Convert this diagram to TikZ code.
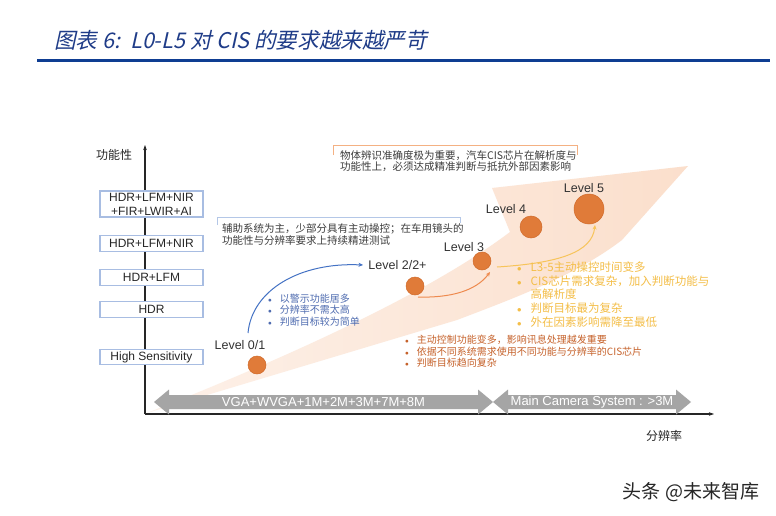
\documentclass[tikz,border=0pt]{standalone}
\usepackage{fontspec}
\setmainfont{Liberation Sans}
\newfontfamily\cjk{Noto Sans CJK SC}
\newfontfamily\cjktitle[FakeSlant=0.22]{Noto Sans CJK SC}
\usetikzlibrary{arrows.meta}
\definecolor{titleblue}{HTML}{1F3C88}
\definecolor{rulecol}{HTML}{0E3D92}
\definecolor{boxblue}{HTML}{A8BDE2}
\definecolor{circfill}{HTML}{E07B39}
\definecolor{circdraw}{HTML}{D06A2A}
\definecolor{wedgeA}{HTML}{FDF1E9}
\definecolor{wedgeB}{HTML}{FBDFCC}
\definecolor{bluearr}{HTML}{4472C4}
\definecolor{bluetxt}{HTML}{4F6CB0}
\definecolor{orangearr}{HTML}{EE8A4E}
\definecolor{yellowarr}{HTML}{F7C45A}
\definecolor{yellowtxt}{HTML}{F4BE48}
\definecolor{browntxt}{HTML}{C6622B}
\definecolor{graybar}{HTML}{A5A5A5}
\definecolor{anntext}{HTML}{3C3C3C}
\definecolor{bluebr}{HTML}{B4C7E7}
\definecolor{orangebr}{HTML}{F4B183}
\newcommand{\bul}{\scalebox{.75}{$\bullet$}}
\begin{document}
\begin{tikzpicture}[x=1pt,y=-1pt,
  axisline/.style={line width=1.2pt, draw=black!85, -{Stealth[length=5pt,width=3.5pt]}},
  fbox/.style={draw=boxblue, line width=1.2pt, fill=white, minimum width=103pt, inner sep=0pt, align=center, font=\fontsize{12}{14}\selectfont, text=black!85},
  lvl/.style={circle, fill=circfill, draw=circdraw, line width=0.5pt, inner sep=0pt},
  lvlabel/.style={font=\fontsize{12.5}{13}\selectfont, text=black!80, inner sep=0pt},
  ann/.style={font=\cjk\fontsize{10.5}{11.7}\selectfont, text=anntext, align=left, anchor=west, inner sep=0pt},
  bullets/.style={anchor=west, inner sep=0pt},
  curvearr/.style={line width=1pt, -{Stealth[length=4.5pt,width=4pt]}},
  barlabel/.style={font=\fontsize{13}{13}\selectfont, text=white, inner sep=0pt},
  axlabel/.style={font=\cjk\fontsize{12}{12}\selectfont, text=black!85, inner sep=0pt}
]
\useasboundingbox (0,0) rectangle (776,516);
\fill[white] (0,0) rectangle (776,516);

% title
\node[anchor=west, inner sep=0pt, text=titleblue, font=\cjktitle\fontsize{21.6}{21.6}\selectfont] (title) at (54,40) {图表 6:\, L0-L5 对 CIS 的要求越来越严苛};
\coordinate (ruleL) at (37,61);
\coordinate (ruleR) at (770,61);
\draw[rulecol, line width=3pt] (ruleL) -- (ruleR);

% big wedge arrow
\shade[left color=wedgeA, right color=wedgeB]
  (147,413) .. controls (260,368) and (420,300) .. (510,232) -- (492,188) -- (688,166)
  -- (622,240) .. controls (575,276) and (512,299) .. (457,320) -- cycle;

% axes
\coordinate (O) at (145,414);
\coordinate (ytop) at (145,145);
\coordinate (xend) at (714,414);
\draw[axisline] (O) -- (ytop);
\draw[axisline] (O) -- (xend);
\node[axlabel] (ylab) at (114,155) {功能性};
\node[axlabel] (xlab) at (664,436) {分辨率};

% function boxes
\node[fbox, minimum height=26pt] (b1) at (151.5,204) {HDR+LFM+NIR\\+FIR+LWIR+AI};
\node[fbox, minimum height=15.5pt] (b2) at (151.5,243.5) {HDR+LFM+NIR};
\node[fbox, minimum height=15.5pt] (b3) at (151.5,277.5) {HDR+LFM};
\node[fbox, minimum height=15.5pt] (b4) at (151.5,309.5) {HDR};
\node[fbox, minimum height=15.5pt] (b5) at (151.5,357) {High Sensitivity};

% resolution bars
\fill[graybar] (154,402) -- (169,389.5) -- (169,395) -- (478,395) -- (478,389.5) -- (493,402)
  -- (478,414.5) -- (478,409) -- (169,409) -- (169,414.5) -- cycle;
\fill[graybar] (493,402) -- (508,389.5) -- (508,395) -- (676,395) -- (676,389.5) -- (691,402)
  -- (676,414.5) -- (676,409) -- (508,409) -- (508,414.5) -- cycle;
\node[barlabel] (r1) at (323.5,402) {VGA+WVGA+1M+2M+3M+7M+8M};
\node[barlabel] (r2) at (592,402) {Main Camera System : >3M};

% level circles
\node[lvl, minimum size=18pt] (c01) at (257,365) {};
\node[lvl, minimum size=18pt] (c2) at (415,286) {};
\node[lvl, minimum size=18pt] (c3) at (482,261) {};
\node[lvl, minimum size=22pt] (c4) at (531,227) {};
\node[lvl, minimum size=30pt] (c5) at (589,209) {};
\node[lvlabel] (l01) at (240,345) {Level 0/1};
\node[lvlabel] (l2) at (397.5,265) {Level 2/2+};
\node[lvlabel] (l3) at (464,247) {Level 3};
\node[lvlabel] (l4) at (506,209) {Level 4};
\node[lvlabel] (l5) at (584,188) {Level 5};

% curved arrows
\coordinate (ba1) at (248,333);
\coordinate (ba2) at (363,265);
\draw[curvearr, bluearr] (ba1) .. controls (252,290) and (300,262) .. (ba2);
\coordinate (oa1) at (418,297);
\coordinate (oa2) at (490,272);
\draw[curvearr, orangearr] (oa1) .. controls (450,298) and (476,291) .. (oa2);
\coordinate (ya1) at (497,267);
\coordinate (ya2) at (595,225);
\draw[curvearr, yellowarr] (ya1) .. controls (560,263) and (592,252) .. (ya2);

% annotation brackets
\draw[bluebr, line width=1pt] (217,225) -- (217,217) -- (460,217) -- (460,223);
\node[ann] (annb) at (222,234.5) {辅助系统为主，少部分具有主动操控；在车用镜头的\\功能性与分辨率要求上持续精进测试};
\draw[orangebr, line width=1pt] (333,155) -- (333,145) -- (577,145) -- (577,155);
\node[ann] (anno) at (340,161) {物体辨识准确度极为重要，汽车CIS芯片在解析度与\\功能性上，必须达成精准判断与抵抗外部因素影响};

% bullet lists
\node[bullets, text=bluetxt, font=\cjk\fontsize{10}{10.5}\selectfont] (blist) at (268,311) {%
  \begin{tabular}{@{}l@{\hspace{8pt}}l@{}}\bul & 以警示功能居多\\ \bul & 分辨率不需太高\\ \bul & 判断目标较为简单\end{tabular}};
\node[bullets, text=yellowtxt, font=\cjk\fontsize{11.5}{12.8}\selectfont] (ylist) at (517,296) {%
  \begin{tabular}{@{}l@{\hspace{9pt}}l@{}}\bul & L3-5主动操控时间变多\\ \bul & CIS芯片需求复杂，加入判断功能与\\ & 高解析度\\ \bul & 判断目标最为复杂\\ \bul & 外在因素影响需降至最低\end{tabular}};
\node[bullets, text=browntxt, font=\cjk\fontsize{10}{11}\selectfont] (olist) at (405,352.5) {%
  \begin{tabular}{@{}l@{\hspace{8pt}}l@{}}\bul & 主动控制功能变多，影响讯息处理越发重要\\ \bul & 依据不同系统需求使用不同功能与分辨率的CIS芯片\\ \bul & 判断目标趋向复杂\end{tabular}};

% watermark
\node[inner sep=0pt, font=\cjk\fontsize{19}{19}\selectfont, text=black!85] (wm) at (691,492) {头条 @未来智库};
\end{tikzpicture}
\end{document}
